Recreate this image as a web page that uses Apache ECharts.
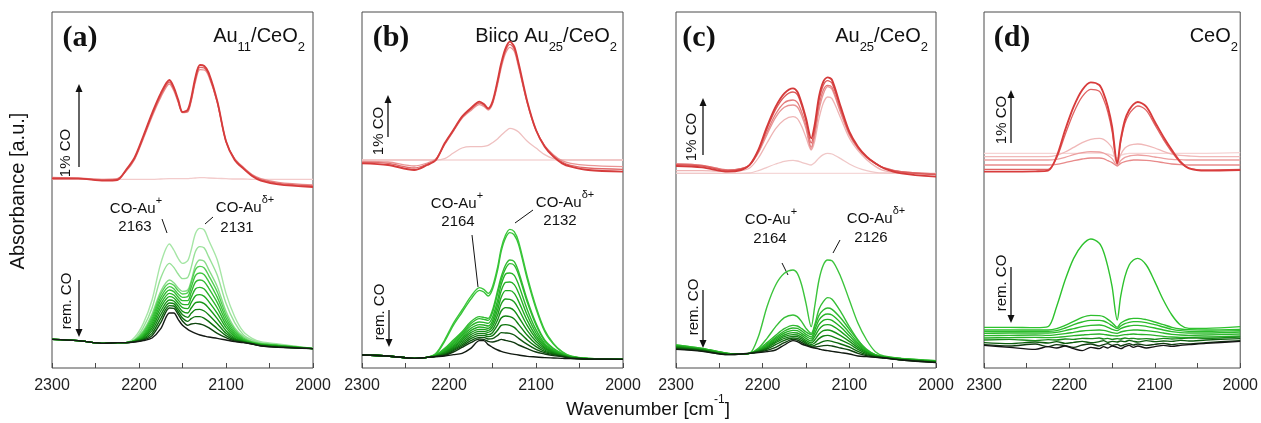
<!DOCTYPE html>
<html><head><meta charset="utf-8">
<script src="https://cdn.jsdelivr.net/npm/echarts@6/dist/echarts.min.js"></script>
<style>html,body{margin:0;padding:0;background:#fff}#c{width:1261px;height:423px}</style>
</head><body><div id="c"></div>
<script>
// wavenumber grid (cm-1), shared by all spectra
const W = [2300,2270,2240,2225,2215,2205,2195,2185,2175,2165,2160,2155,2150,2144,2140,2135,2130,2125,2120,2110,2100,2090,2080,2070,2060,2040,2000];
const xTicks = [2300,2200,2100,2000];

// ---- panel (a) Au11/CeO2 ----
const aR1 = [566,566,566,566,566,566,566,566,567,568,568,568,568,568,569,570,571,571,570,569,568,567,567,566,566,566,566];
const aR2 = [572,570,566,568,590,626,688,754,812,852,832,797,766,768,800,860,895,894,876,796,680,628,602,580,568,557,549];
const aR3 = [570,569,564,566,592,629,692,759,818,858,837,801,768,771,805,867,902,900,881,798,680,626,600,578,565,554,546];
const aR4 = [568,568,562,564,594,632,696,764,824,864,842,805,768,775,810,874,909,906,886,800,680,624,598,576,562,551,543];
const aG1 = [86,82,74,76,76,92,134,204,314,372,354,329,314,322,354,404,419,414,384,324,224,154,109,89,79,72,59];
const aG2 = [86,82,74,76,76,86,122,180,270,314,302,282,268,272,302,350,364,360,334,278,194,136,100,84,76,70,59];
const aG3 = [86,82,74,76,76,84,112,162,230,264,256,240,230,234,262,308,324,320,296,244,170,120,94,80,74,69,58];
const aB1 = [86,82,74,76,76,83,108,155,222,254,248,232,222,226,256,296,305,300,278,228,160,114,90,78,73,68,58];
const aB2 = [86,82,74,76,76,82,104,148,212,244,238,222,212,214,242,278,285,280,260,212,150,108,87,77,72,68,58];
const aB3 = [86,82,74,76,76,82,100,141,202,234,229,213,202,202,227,258,264,259,240,196,140,103,85,76,71,67,58];
const aB4 = [86,82,74,76,76,81,97,134,192,224,219,204,191,190,212,238,242,237,220,180,130,98,83,75,70,66,58];
const aB5 = [86,82,74,76,76,81,94,127,182,214,210,195,181,178,196,217,220,215,200,164,121,94,81,74,70,66,58];
const aB6 = [86,82,74,76,76,80,91,120,171,204,201,186,170,165,180,196,198,193,180,148,112,90,80,74,69,65,58];
const aB7 = [86,82,74,76,76,80,88,112,160,195,193,177,160,152,164,175,176,171,160,133,104,87,79,73,68,64,58];
const aB8 = [86,82,74,76,76,79,86,104,148,187,186,169,150,140,148,154,154,149,140,118,97,84,78,73,67,63,58];
const aB9 = [86,82,74,76,76,79,84,97,136,180,179,161,141,128,132,134,132,128,121,104,91,81,77,72,67,63,58];
const aG4 = [86,82,74,76,76,78,82,90,118,165,165,146,128,116,110,104,99,96,93,89,84,79,76,72,66,62,58];

// ---- panel (b) Biico Au25/CeO2 ----
const bR1 = [624,624,624,624,624,624,624,624,624,624,624,624,624,624,624,624,624,624,624,624,624,624,624,624,624,624,624];
const bR2 = [624,624,624,624,624,628,645,660,664,664,665,668,676,688,698,710,719,716,708,680,660,640,628,625,624,624,624];
const bR3 = [620,618,606,615,628,670,710,749,772,790,785,774,792,852,900,944,962,950,902,794,713,667,640,622,614,608,604];
const bR4 = [617,614,600,612,626,672,712,752,776,795,789,777,796,859,908,952,971,957,908,797,714,666,637,618,608,600,596];
const bR5 = [614,609,594,609,624,674,714,754,779,799,792,779,799,864,914,959,979,964,914,799,714,664,634,614,604,594,589];
const bG1 = [39,36,29,32,44,84,134,174,214,241,236,224,244,304,359,399,416,409,379,274,184,114,74,49,36,29,26];
const bG2 = [39,36,29,32,42,80,128,167,206,233,228,216,236,295,350,390,406,399,370,266,178,110,72,48,35,29,26];
const bG3 = [39,36,29,32,40,59,84,109,139,154,152,149,174,234,274,309,324,319,289,204,134,84,59,44,35,29,26];
const bG4 = [39,36,29,32,39,56,80,104,133,148,146,143,166,224,264,298,313,308,280,197,129,81,57,43,34,28,26];
const bB1 = [39,36,29,32,38,54,76,100,126,138,137,134,152,205,250,282,285,278,250,175,115,74,54,42,33,28,26];
const bB2 = [39,36,29,32,38,52,72,95,119,130,129,126,142,190,232,257,258,250,225,158,105,70,52,41,33,28,26];
const bB3 = [39,36,29,32,37,50,68,90,112,123,122,119,133,175,212,232,232,224,200,142,96,66,50,40,32,28,26];
const bB4 = [39,36,29,32,37,48,64,85,106,116,116,113,124,160,192,207,206,198,177,127,88,62,48,39,32,27,26];
const bB5 = [39,36,29,32,36,46,61,80,100,110,110,107,115,145,171,181,180,172,153,112,80,58,46,38,31,27,26];
const bB6 = [39,36,29,32,36,44,58,75,94,104,104,100,106,130,150,156,154,147,131,98,72,54,44,37,31,27,26];
const bB7 = [39,36,29,32,35,42,55,70,88,98,98,94,97,114,128,130,128,122,109,84,64,50,42,36,30,27,26];
const bB8 = [39,36,29,32,35,40,52,66,82,92,92,87,88,98,106,105,104,99,89,71,56,46,40,35,30,27,26];
const bB9 = [39,36,29,32,34,38,48,62,76,87,86,80,78,82,86,83,80,76,69,58,48,42,37,34,29,27,26];
const bG5 = [39,36,29,32,34,36,40,44,59,82,82,70,62,54,50,46,43,41,39,35,33,31,30,29,28,27,26];

// ---- panel (c) Au25/CeO2 ----
const cR1 = [584,584,584,584,584,584,584,584,584,584,584,584,584,584,584,584,584,584,584,584,584,584,584,584,584,584,584];
const cR2 = [584,584,584,584,585,592,602,612,620,623,621,617,613,609,616,630,640,644,642,628,612,600,592,587,585,584,584];
const cR3 = [592,592,590,592,600,630,675,718,745,754,748,725,692,654,680,748,795,813,808,750,690,652,625,605,592,585,582];
const cR4 = [612,608,594,598,609,645,700,752,782,789,783,757,718,656,695,773,822,844,836,765,699,658,631,613,600,589,582];
const cR5 = [612,608,594,598,610,648,708,762,796,804,797,768,728,662,704,786,834,848,842,770,702,660,632,614,601,589,582];
const cR6 = [610,606,592,597,610,652,718,776,814,828,820,787,742,675,718,802,848,862,854,778,705,662,633,614,600,588,580];
const cR7 = [606,602,589,594,609,654,724,784,824,839,829,794,749,689,729,814,859,872,864,784,709,664,634,614,599,584,574];
const cG1 = [69,59,44,42,44,94,184,249,284,294,284,249,194,124,184,264,309,324,322,274,204,134,84,49,36,29,22];
const cG2 = [69,59,44,42,44,59,89,124,151,159,154,139,119,104,129,176,199,211,206,169,124,84,54,39,34,29,22];
const cB1 = [68,58,44,42,44,56,76,98,118,128,126,118,108,100,124,158,174,180,176,150,116,82,56,40,34,28,21];
const cB2 = [67,57,43,42,44,54,72,92,111,120,119,111,101,93,114,144,158,162,159,136,106,76,53,39,33,27,20];
const cB3 = [66,57,43,42,44,53,69,88,105,113,112,104,95,87,104,130,143,146,143,123,97,71,50,38,33,27,20];
const cB4 = [65,56,42,42,44,52,66,84,99,106,105,98,89,81,94,116,128,130,127,110,88,66,48,37,32,26,19];
const cB5 = [64,55,42,42,44,51,63,80,94,100,99,92,83,75,84,102,112,114,111,97,80,61,46,36,32,26,19];
const cB6 = [62,54,41,42,44,50,60,76,89,95,94,87,78,70,75,88,96,98,95,84,72,56,43,35,31,25,18];
const cB7 = [60,53,41,42,44,49,57,70,83,90,89,82,74,66,68,74,80,82,80,72,63,50,40,34,31,25,17];
const cB8 = [58,51,40,42,44,48,53,62,76,86,84,77,70,64,63,65,67,68,66,60,54,44,37,33,30,24,17];
const cG3 = [56,50,40,42,44,46,49,54,69,82,79,72,67,62,60,57,54,52,50,46,42,36,34,32,30,24,16];

// ---- panel (d) CeO2 ----
const dR1 = [644,644,644,644,644,644,644,644,645,645,644,642,638,630,638,642,644,644,644,644,644,644,644,644,644,644,646];
const dR2 = [634,634,634,634,638,648,662,676,686,689,686,676,660,610,640,660,668,671,672,668,660,650,642,638,636,634,634];
const dR3 = [624,624,624,624,626,632,640,646,649,648,645,638,628,608,622,632,636,638,639,637,633,629,626,625,624,624,624];
const dR4 = [609,609,609,609,611,616,622,627,630,630,628,622,616,606,614,619,622,624,624,623,620,616,612,610,609,609,609];
const dR5 = [596,596,596,596,630,700,766,814,836,830,806,768,710,612,678,734,762,778,786,773,730,686,648,616,600,594,596];
const dR6 = [589,589,590,592,634,714,784,834,857,849,824,784,724,614,684,744,774,791,798,784,739,694,654,619,599,592,594];
const dG1 = [122,122,121,124,184,264,329,369,387,374,349,304,244,144,214,274,309,324,329,309,259,204,159,129,119,119,124];
const dG2 = [114,114,114,114,118,128,140,152,158,157,154,146,136,122,134,142,147,149,149,145,138,130,122,117,115,114,116];
const dG3 = [109,109,110,110,112,120,130,138,143,143,141,135,127,118,126,133,137,139,139,136,130,123,116,112,110,110,112];
const dG4 = [104,105,105,105,107,112,118,124,128,129,127,122,116,112,118,123,126,128,128,125,120,114,109,106,105,105,108];
const dG5 = [97,98,99,98,100,103,107,111,113,114,113,110,106,104,108,111,113,114,114,112,109,105,101,99,98,99,102];
const dG6 = [90,91,92,91,92,94,97,99,101,102,101,99,97,96,98,100,101,102,101,100,98,95,93,92,92,93,96];
const dG7 = [84,86,82,85,84,87,86,89,88,90,87,89,86,88,87,90,88,89,87,88,86,89,87,88,90,89,93];
const dG8 = [76,73,78,75,79,74,77,80,76,79,82,77,80,78,81,79,83,80,78,82,79,81,80,83,81,84,88];
const dG9 = [70,66,72,64,70,67,62,69,72,66,70,73,68,71,66,70,73,69,72,68,71,74,70,73,72,76,82];
const dG10 = [68,62,56,64,60,66,58,52,62,58,64,60,66,62,58,64,68,62,66,60,64,68,65,68,70,74,80];

const panels = [
  {left:52, width:261, red:[aR1,aR2,aR3,aR4], redCol:['#f3cccc','#e88a8a','#e06464','#d63c3c'],
   green:[aG1,aG2,aG3,aB1,aB2,aB3,aB4,aB5,aB6,aB7,aB8,aB9,aG4],
   gStops:[[0,'#a6e6a6'],[0.17,'#88dc88'],[0.27,'#46cc46'],[0.6,'#1ca81c'],[0.85,'#0b6a0b'],[1,'#151a15']]},
  {left:362, width:261, red:[bR1,bR2,bR3,bR4,bR5], redCol:['#f5d6d6','#efc0c0','#e99494','#e06868','#d63c3c'],
   green:[bG1,bG2,bG3,bG4,bB1,bB2,bB3,bB4,bB5,bB6,bB7,bB8,bB9,bG5],
   gStops:[[0,'#3cc83c'],[0.45,'#20ac20'],[0.78,'#0d720d'],[1,'#111a11']]},
  {left:676, width:260, red:[cR1,cR2,cR3,cR4,cR5,cR6,cR7], redCol:['#f5d8d8','#f0c8c8','#eeb4b4','#e89494','#e47c7c','#dc5a5a','#d43a3a'],
   green:[cG1,cG2,cB1,cB2,cB3,cB4,cB5,cB6,cB7,cB8,cG3],
   gStops:[[0,'#3cc43c'],[0.45,'#20ac20'],[0.78,'#0d720d'],[1,'#111a11']]},
  {left:984, width:260, red:[dR1,dR2,dR3,dR4,dR5,dR6], redCol:['#f6d4d4','#f0b8b8','#eca0a0','#e88a8a','#e06262','#d83c3c'],
   green:[dG1,dG2,dG3,dG4,dG5,dG6,dG7,dG8,dG9,dG10],
   gStops:[[0,'#2ec22e'],[0.55,'#2ab42a'],[0.75,'#0c680c'],[1,'#141414']]}
];

function hex2rgb(h){h=h.replace('#','');return [0,2,4].map(i=>parseInt(h.substr(i,2),16));}
function mix(stops,t){
  for(let i=0;i<stops.length-1;i++){
    const [p0,c0]=stops[i],[p1,c1]=stops[i+1];
    if(t<=p1){const u=(t-p0)/(p1-p0||1);const a=hex2rgb(c0),b=hex2rgb(c1);
      return 'rgb('+a.map((v,j)=>Math.round(v+(b[j]-v)*u)).join(',')+')';}
  }
  return stops[stops.length-1][1];
}

const grids=[],xAxes=[],yAxes=[],series=[];
panels.forEach((p,pi)=>{
  grids.push({left:p.left,width:p.width,top:12,height:356,show:true,borderColor:'#4a4a4a',borderWidth:1,backgroundColor:'transparent'});
  xAxes.push({type:'value',gridIndex:pi,min:2000,max:2300,interval:50,inverse:true,
    axisLine:{show:false},splitLine:{show:false},
    axisTick:{show:true,inside:true,length:5,lineStyle:{color:'#4a4a4a',width:1}},
    axisLabel:{fontFamily:'Liberation Sans, Arial, sans-serif',fontSize:16,color:'#222',margin:10,
      formatter:v=>xTicks.indexOf(v)>=0?String(v):''}});
  yAxes.push({type:'value',gridIndex:pi,min:0,max:1068,show:false});
  const nr=p.red.length;
  p.red.forEach((arr,k)=>{
    series.push({type:'line',xAxisIndex:pi,yAxisIndex:pi,data:W.map((w,i)=>[w,arr[i]]),
      smooth:0.3,showSymbol:false,silent:true,animation:false,
      lineStyle:{width:k===nr-1?1.9:1.3,color:p.redCol[k]}});
  });
  const ng=p.green.length;
  p.green.forEach((arr,k)=>{
    series.push({type:'line',xAxisIndex:pi,yAxisIndex:pi,data:W.map((w,i)=>[w,arr[i]]),
      smooth:0.3,showSymbol:false,silent:true,animation:false,
      lineStyle:{width:1.4,color:mix(p.gStops,k/(ng-1))}});
  });
});

const SANS='Liberation Sans, Arial, sans-serif';
const g=[];
function txt(x,y,text,opt){g.push(Object.assign({type:'text',x:x,y:y,silent:true,style:Object.assign({text:text,fontFamily:SANS,fontSize:15,fill:'#111',align:'center',verticalAlign:'middle'},opt&&opt.style||{})},opt&&opt.el||{}));}
function line(x1,y1,x2,y2,w){g.push({type:'line',silent:true,shape:{x1:x1,y1:y1,x2:x2,y2:y2},style:{stroke:'#111',lineWidth:w||1}});}
function arrow(x,y1,y2){
  const d=y2>y1?1:-1;
  line(x,y1,x,y2-d*6,1.3);
  g.push({type:'polygon',silent:true,shape:{points:[[x-3.5,y2-d*8],[x+3.5,y2-d*8],[x,y2]]},style:{fill:'#111'}});
}
const rich={n:{fontSize:20,fontFamily:SANS,fill:'#111',verticalAlign:'middle',lineHeight:24},
            s:{fontSize:13,fontFamily:SANS,fill:'#111',verticalAlign:'bottom',lineHeight:15,padding:[0,0,-6,0]},
            p:{fontSize:11,fontFamily:SANS,fill:'#111',verticalAlign:'top',lineHeight:12,padding:[-4,0,0,0]},
            m:{fontSize:15,fontFamily:SANS,fill:'#111',verticalAlign:'middle',lineHeight:20}};
[['(a)',80],['(b)',391],['(c)',699],['(d)',1012]].forEach(([t,x])=>txt(x,38,t,{style:{fontFamily:'Liberation Serif, DejaVu Serif, serif',fontWeight:'bold',fontSize:30}}));
txt(305,36,'{n|Au}{s|11}{n|/CeO}{s|2}',{style:{rich:rich,align:'right'}});
txt(617,36,'{n|Biico Au}{s|25}{n|/CeO}{s|2}',{style:{rich:rich,align:'right'}});
txt(928,36,'{n|Au}{s|25}{n|/CeO}{s|2}',{style:{rich:rich,align:'right'}});
txt(1238,36,'{n|CeO}{s|2}',{style:{rich:rich,align:'right'}});
const ann=[[66,153,79,167,84,67,301,79,280,337],[379,131,388,137,95,380,312,389,310,347],
           [692,137,703,155,98,694,307,703,290,348],[1002,120,1011,143,90,1002,283,1011,267,323]];
ann.forEach(a=>{
  txt(a[0],a[1],'1% CO',{el:{rotation:Math.PI/2}});
  arrow(a[2],a[3],a[4]);
  txt(a[5],a[6],'rem. CO',{el:{rotation:Math.PI/2}});
  arrow(a[7],a[8],a[9]);
});
const pk=[
 [136,209,'2163',135,227,[162,219,167,233], 245,208,'2131',237,228,[205,224,213,217]],
 [457,204,'2164',458,222,[472,235,478,287], 565,203,'2132',560,221,[515,223,533,210]],
 [771,220,'2164',770,239,[782,263,788,275], 876,219,'2126',871,238,[833,253,840,240]]
];
pk.forEach(q=>{
  txt(q[0],q[1],'{m|CO-Au}{p|+}',{style:{rich:rich}});
  txt(q[3],q[4],q[2],{style:{fontSize:15}});
  line(q[5][0],q[5][1],q[5][2],q[5][3],1);
  txt(q[6],q[7],'{m|CO-Au}{p|δ+}',{style:{rich:rich}});
  txt(q[9],q[10],q[8],{style:{fontSize:15}});
  line(q[11][0],q[11][1],q[11][2],q[11][3],1);
});
txt(648,410,'{t|Wavenumber [cm}{u|-1}{t|]}',{style:{rich:{t:{fontSize:19,fontFamily:SANS,fill:'#111',verticalAlign:'middle',lineHeight:24},u:{fontSize:12,fontFamily:SANS,fill:'#111',verticalAlign:'top',lineHeight:12,padding:[-4,0,0,0]}}}});
txt(18,191,'Absorbance [a.u.]',{style:{fontSize:20},el:{rotation:Math.PI/2}});

const chart=echarts.init(document.getElementById('c'),null,{renderer:'canvas'});
chart.setOption({animation:false,backgroundColor:'#fff',grid:grids,xAxis:xAxes,yAxis:yAxes,series:series,graphic:g});
</script></body></html>
